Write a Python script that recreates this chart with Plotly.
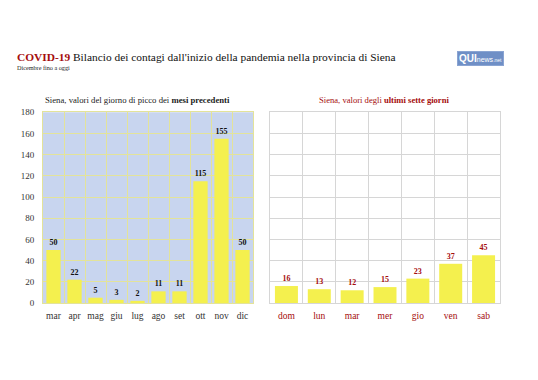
import plotly.graph_objects as go

months = ["mar", "apr", "mag", "giu", "lug", "ago", "set", "ott", "nov", "dic"]
month_peaks = [50, 22, 5, 3, 2, 11, 11, 115, 155, 50]
days = ["dom", "lun", "mar", "mer", "gio", "ven", "sab"]
day_values = [16, 13, 12, 15, 23, 37, 45]
y_ticks = [0, 20, 40, 60, 80, 100, 120, 140, 160, 180]

OFF = 8  # default page body margin
W, H = 538 - OFF, 380 - OFF
SERIF = "Liberation Serif, Times New Roman, serif"
DARKRED = "#a50d0d"
BAR = "#f4f04e"
BLUE_BG = "#c8d5ef"
YGRID = "#e3e39a"
GGRID = "#d6d6d6"

def px_x(v):
    return (v - OFF) / W

def px_y(v):
    return 1 - (v - OFF) / H

fig = go.Figure()

fig.add_trace(go.Bar(
    x=months, y=month_peaks, xaxis="x", yaxis="y",
    marker=dict(color=BAR, line=dict(width=0)), width=0.68,
    texttemplate="<b>%{y}</b>", textposition="outside",
    textfont=dict(family=SERIF, size=8, color="#111111"),
    cliponaxis=False, showlegend=False, hoverinfo="x+y",
))
fig.add_trace(go.Bar(
    x=days, y=day_values, xaxis="x2", yaxis="y2",
    marker=dict(color=BAR, line=dict(width=0)), width=0.7,
    texttemplate="<b>%{y}</b>", textposition="outside",
    textfont=dict(family=SERIF, size=8, color=DARKRED),
    cliponaxis=False, showlegend=False, hoverinfo="x+y",
))

y_dom = [px_y(306), px_y(110)]

fig.update_layout(
    width=W, height=H,
    margin=dict(l=0, r=0, t=0, b=0),
    paper_bgcolor="white", plot_bgcolor="white",
    font=dict(family=SERIF, size=9, color="#333333"),
    bargap=0.3,
    xaxis=dict(
        domain=[px_x(43), px_x(253)], type="category", tickangle=0,
        tickson="boundaries", showgrid=True, gridcolor=YGRID, gridwidth=1,
        ticks="", showline=True, linecolor=YGRID, mirror=True,
        tickfont=dict(family=SERIF, size=9.5, color="#333333"),
        ticklabelstandoff=4, fixedrange=True,
    ),
    yaxis=dict(
        domain=y_dom, range=[0, 180], tickvals=y_ticks,
        showgrid=True, gridcolor=YGRID, gridwidth=1, zeroline=False,
        showline=True, linecolor=YGRID, mirror=True, ticks="",
        tickfont=dict(family=SERIF, size=9, color="#333333"),
        ticklabelstandoff=6, fixedrange=True,
    ),
    xaxis2=dict(
        domain=[px_x(270), px_x(500)], type="category", anchor="y2", tickangle=0,
        tickson="boundaries", showgrid=True, gridcolor=GGRID, gridwidth=1,
        ticks="", showline=True, linecolor=GGRID, mirror=True,
        tickfont=dict(family=SERIF, size=9.5, color=DARKRED),
        ticklabelstandoff=4, fixedrange=True,
    ),
    yaxis2=dict(
        domain=y_dom, range=[0, 180], tickvals=y_ticks, anchor="x2",
        showticklabels=False, showgrid=True, gridcolor=GGRID, gridwidth=1,
        zeroline=False, showline=True, linecolor=GGRID, mirror=True,
        ticks="", fixedrange=True,
    ),
    shapes=[
        dict(type="rect", xref="x domain", yref="y domain", x0=0, x1=1, y0=0, y1=1,
             fillcolor=BLUE_BG, line=dict(width=0), layer="below"),
    ],
    annotations=[
        dict(xref="paper", yref="paper", x=px_x(15), y=px_y(53), xanchor="left", yanchor="middle",
             text="<b><span style='color:%s'>COVID-19</span></b> Bilancio dei contagi dall'inizio della pandemia nella provincia di Siena" % DARKRED,
             showarrow=False, font=dict(family=SERIF, size=11.4, color="#111111")),
        dict(xref="paper", yref="paper", x=px_x(15), y=px_y(64), xanchor="left", yanchor="middle",
             text="Dicembre fino a oggi", showarrow=False,
             font=dict(family=SERIF, size=6.2, color="#222222")),
        dict(xref="paper", yref="paper", x=px_x(137), y=px_y(97), xanchor="center", yanchor="middle",
             text="Siena, valori del giorno di picco dei <b>mesi precedenti</b>", showarrow=False,
             font=dict(family=SERIF, size=8.7, color="#222222")),
        dict(xref="paper", yref="paper", x=px_x(384), y=px_y(97), xanchor="center", yanchor="middle",
             text="Siena, valori degli <b>ultimi sette giorni</b>", showarrow=False,
             font=dict(family=SERIF, size=8.6, color=DARKRED)),
        dict(xref="paper", yref="paper", x=px_x(480), y=px_y(55), xanchor="center", yanchor="middle",
             text="<b>QUI</b><span style='font-size:7px'>news</span><span style='font-size:5px'>.net</span>",
             showarrow=False, bgcolor="#6f8fc6", bordercolor="#8aa4d2", borderwidth=1, borderpad=1,
             font=dict(family="Liberation Sans, Arial, sans-serif", size=10, color="white")),
    ],
)

fig.write_html("out.html")
